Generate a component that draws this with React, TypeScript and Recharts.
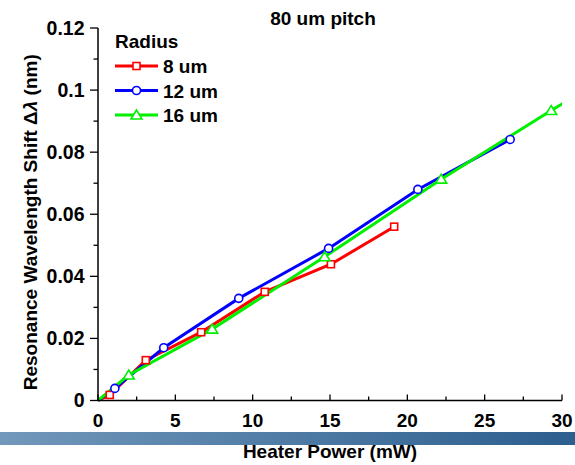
import { LineChart, Line, XAxis, YAxis, Legend, Label } from 'recharts';

// Heater power (mW) and resonance shift (nm) for each ring radius
const power8 = [0, 0.76, 3.09, 6.67, 10.78, 15.06, 19.15];
const shift8 = [0, 0.0018, 0.013, 0.022, 0.035, 0.0439, 0.056];
const power12 = [0, 1.09, 4.25, 9.1, 14.91, 20.68, 26.65];
const shift12 = [0, 0.0039, 0.017, 0.0329, 0.049, 0.068, 0.0841];
const power16 = [0, 1.99, 7.38, 14.65, 22.19, 29.3, 31];
const shift16 = [0, 0.0082, 0.023, 0.0463, 0.0713, 0.0934, 0.0985];

const xTicks = [0, 2.5, 5, 7.5, 10, 12.5, 15, 17.5, 20, 22.5, 25, 27.5, 30];
const xMajor = [0, 5, 10, 15, 20, 25, 30];
const yTicks = [0, 0.01, 0.02, 0.03, 0.04, 0.05, 0.06, 0.07, 0.08, 0.09, 0.1, 0.11, 0.12];
const yMajor = [0, 0.02, 0.04, 0.06, 0.08, 0.1, 0.12];

const FONT = '"Liberation Sans", Arial, sans-serif';

const toPoints = (xs: number[], ys: number[]) => xs.map((x, i) => ({ x, y: ys[i] }));

const series = [
    { name: '8 um', color: '#ff0000', shape: 'square', data: toPoints(power8, shift8) },
    { name: '12 um', color: '#0000ff', shape: 'circle', data: toPoints(power12, shift12) },
    { name: '16 um', color: '#00f000', shape: 'triangle', data: toPoints(power16, shift16) },
];

const Marker = ({ shape, cx, cy, color }: { shape: string; cx: number; cy: number; color: string }) => {
    if (shape === 'square') {
        return <rect x={cx - 3.5} y={cy - 3.5} width={7} height={7} fill="#fff" stroke={color} strokeWidth={1.6} />;
    }
    if (shape === 'circle') {
        return <circle cx={cx} cy={cy} r={4} fill="#fff" stroke={color} strokeWidth={1.6} />;
    }
    return (
        <polygon
            points={`${cx},${cy - 5} ${cx - 5.5},${cy + 4} ${cx + 5.5},${cy + 4}`}
            fill="#fff"
            stroke={color}
            strokeWidth={1.6}
        />
    );
};

const makeDot = (shape: string, color: string) => (props: any) => {
    const { cx, cy, payload, index } = props;
    if (payload.x === 0 || cx == null || cy == null) return <g key={`d-${index}`} />;
    return (
        <g key={`d-${index}`}>
            <Marker shape={shape} cx={cx} cy={cy} color={color} />
        </g>
    );
};

const XTick = ({ x, y, payload }: any) => {
    const major = xMajor.includes(payload.value);
    return (
        <g>
            <line x1={x} x2={x} y1={y} y2={y - (major ? 6 : 4)} stroke="#000" strokeWidth={1.3} />
            {major && (
                <text x={x} y={y + 26} textAnchor="middle" fontSize={19} fontWeight="bold" fontFamily={FONT} fill="#000">
                    {payload.value}
                </text>
            )}
        </g>
    );
};

const YTick = ({ x, y, payload }: any) => {
    const major = yMajor.includes(payload.value);
    return (
        <g>
            <line x1={x} x2={x - (major ? 8 : 4.5)} y1={y} y2={y} stroke="#000" strokeWidth={1.3} />
            {major && (
                <text x={x - 13.5} y={y + 6.8} textAnchor="end" fontSize={19.5} fontWeight="bold" fontFamily={FONT} fill="#000">
                    {String(payload.value)}
                </text>
            )}
        </g>
    );
};

const renderLegend = () => (
    <svg width={140} height={105}>
        <text x={5} y={18} fontSize={19} fontWeight="bold" fontFamily={FONT} fill="#000">
            Radius
        </text>
        {series.map((s, i) => {
            const cy = 36 + i * 24.5;
            return (
                <g key={s.name}>
                    <line x1={5} x2={48} y1={cy} y2={cy} stroke={s.color} strokeWidth={3} />
                    <Marker shape={s.shape} cx={26.5} cy={cy} color={s.color} />
                    <text x={53} y={cy + 7} fontSize={19} fontWeight="bold" fontFamily={FONT} fill="#000">
                        {s.name}
                    </text>
                </g>
            );
        })}
    </svg>
);

export default function App() {
    return (
        <div style={{ position: 'absolute', left: 0, top: 0, width: 575, height: 465, background: '#fff', fontFamily: FONT }}>
            <div
                style={{
                    position: 'absolute',
                    left: 0,
                    top: 432,
                    width: 575,
                    height: 13,
                    background: 'linear-gradient(to right, #7298bb, #2c5e8e)',
                }}
            />
            <div
                style={{
                    position: 'absolute',
                    left: 223,
                    top: 8,
                    width: 200,
                    textAlign: 'center',
                    fontSize: 19,
                    lineHeight: '22px',
                    fontWeight: 'bold',
                }}
            >
                80 um pitch
            </div>
            <div style={{ position: 'absolute', left: 0, top: 0 }}>
                <LineChart width={575} height={465} margin={{ top: 28, right: 13, bottom: 34.5, left: 0 }}>
                    <XAxis
                        type="number"
                        dataKey="x"
                        domain={[0, 30]}
                        ticks={xTicks}
                        allowDataOverflow
                        interval={0}
                        height={30}
                        tickSize={0}
                        tickMargin={0}
                        tickLine={false}
                        tick={<XTick />}
                        axisLine={{ stroke: '#000', strokeWidth: 1.5 }}
                    >
                        <Label
                            content={({ viewBox }: any) => (
                                <text
                                    x={viewBox.x + viewBox.width / 2}
                                    y={viewBox.y + 57.5}
                                    textAnchor="middle"
                                    fontSize={19}
                                    fontWeight="bold"
                                    fontFamily={FONT}
                                    fill="#000"
                                >
                                    Heater Power (mW)
                                </text>
                            )}
                        />
                    </XAxis>
                    <YAxis
                        type="number"
                        dataKey="y"
                        domain={[0, 0.12]}
                        ticks={yTicks}
                        interval={0}
                        width={98}
                        tickSize={0}
                        tickMargin={0}
                        tickLine={false}
                        tick={<YTick />}
                        axisLine={{ stroke: '#000', strokeWidth: 1.5 }}
                    >
                        <Label
                            content={({ viewBox }: any) => {
                                const cx = 37;
                                const cy = viewBox.y + viewBox.height / 2 + 8;
                                return (
                                    <text
                                        x={cx}
                                        y={cy}
                                        transform={`rotate(-90, ${cx}, ${cy})`}
                                        textAnchor="middle"
                                        fontSize={19}
                                        fontWeight="bold"
                                        fontFamily={FONT}
                                        fill="#000"
                                    >
                                        Resonance Wavelength Shift Δ<tspan fontStyle="italic">λ</tspan> (nm)
                                    </text>
                                );
                            }}
                        />
                    </YAxis>
                    <Legend
                        layout="vertical"
                        align="center"
                        verticalAlign="middle"
                        content={renderLegend}
                        wrapperStyle={{ left: 110, top: 30, width: 140, height: 105 }}
                    />
                    {series.map((s) => (
                        <Line
                            key={s.name}
                            name={s.name}
                            data={s.data}
                            dataKey="y"
                            type="linear"
                            stroke={s.color}
                            strokeWidth={3}
                            dot={makeDot(s.shape, s.color)}
                            activeDot={false}
                            isAnimationActive={false}
                        />
                    ))}
                </LineChart>
            </div>
        </div>
    );
}
